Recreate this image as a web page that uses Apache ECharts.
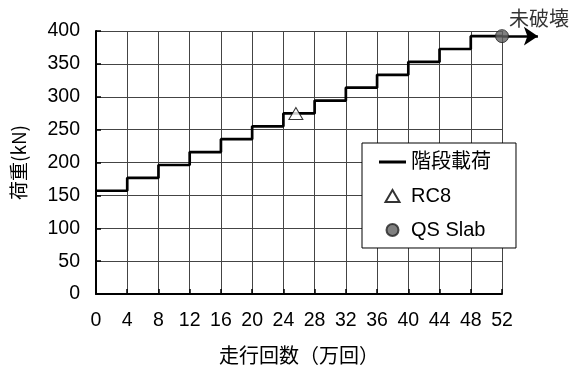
<!DOCTYPE html>
<html>
<head>
<meta charset="utf-8">
<script src="https://cdn.jsdelivr.net/npm/echarts@6/dist/echarts.min.js"></script>
<style>
  html, body { margin: 0; padding: 0; background: #fff; }
  #chart { width: 572px; height: 374px; }
</style>
</head>
<body>
<div id="chart"></div>
<script>
// Step loading: each block starts at stepStart (×10^4 passes) and holds stepLoad (kN)
const stepStart = [0, 4, 8, 12, 16, 20, 24, 28, 32, 36, 40, 44, 48];
const stepLoad  = [157, 176.6, 196.2, 215.8, 235.4, 255, 274.6, 294.2, 313.8, 333.4, 353, 372.6, 392.2];
const lastPass  = 52;

// Specimen results
const rc8Point    = [25.6, 274.6];
const qsSlabPoint = [52, 392.2];
const qsSlabNote  = '未破壊';
const arrowEnd    = 56.6;

const seriesNames = ['階段載荷', 'RC8', 'QS Slab'];
const xAxisTitle = '走行回数（万回）';
const yAxisTitle = '荷重(kN)';

const stepData = stepStart.map((x, i) => [x, stepLoad[i]]);
stepData.push([lastPass, stepLoad[stepLoad.length - 1]]);

const latin = "'Liberation Sans', 'Noto Sans CJK JP', sans-serif";
const cjk = "'Noto Sans CJK JP', sans-serif";

const chart = echarts.init(document.getElementById('chart'), null, { renderer: 'canvas' });
chart.setOption({
  animation: false,
  backgroundColor: '#fff',
  grid: { left: 96, right: 70, top: 31, bottom: 80, containLabel: false },
  xAxis: {
    type: 'value', min: 0, max: 52, interval: 4,
    name: xAxisTitle, nameLocation: 'middle', nameGap: 51,
    nameTextStyle: { fontFamily: cjk, fontSize: 20, color: '#000' },
    axisLine: { show: true, lineStyle: { color: '#000', width: 2 } },
    axisTick: { show: true, inside: true, length: 5, lineStyle: { color: '#000', width: 1.5 } },
    axisLabel: { fontFamily: latin, fontSize: 19.5, color: '#000', margin: 17 },
    splitLine: { show: true, lineStyle: { color: '#444', width: 1 } }
  },
  yAxis: {
    type: 'value', min: 0, max: 400, interval: 50,
    name: yAxisTitle, nameLocation: 'middle', nameGap: 68,
    nameTextStyle: { fontFamily: cjk, fontSize: 19, color: '#000' },
    axisLine: { show: true, lineStyle: { color: '#000', width: 2 } },
    axisTick: { show: true, inside: true, length: 5, lineStyle: { color: '#000', width: 1.5 } },
    axisLabel: { fontFamily: latin, fontSize: 19.5, color: '#000', margin: 16 },
    splitLine: { show: true, lineStyle: { color: '#444', width: 1 } }
  },
  legend: {
    orient: 'vertical', left: 362, top: 143,
    padding: [9, 25, 8, 17],
    itemWidth: 27, itemHeight: 12, itemGap: 14,
    backgroundColor: '#fff', borderColor: '#000', borderWidth: 1,
    textStyle: { fontFamily: latin, fontSize: 20, color: '#000' },
    data: [
      { name: seriesNames[0], icon: 'path://M0,0 H27 V3 H0 Z' },
      { name: seriesNames[1], icon: 'path://M7,0 L14,12 L0,12 Z' },
      { name: seriesNames[2], icon: 'circle' }
    ]
  },
  series: [
    {
      name: seriesNames[0], type: 'line', step: 'end',
      data: stepData, symbol: 'none',
      lineStyle: { color: '#000', width: 2.7 },
      itemStyle: { color: '#000' },
      z: 3
    },
    {
      type: 'lines', coordinateSystem: 'cartesian2d', clip: false,
      symbol: ['none', 'arrow'], symbolSize: 14,
      lineStyle: { color: '#000', width: 2.7, opacity: 1 },
      data: [{ coords: [qsSlabPoint, [arrowEnd, qsSlabPoint[1]]] }],
      z: 4
    },
    {
      name: seriesNames[1], type: 'scatter', symbol: 'triangle', symbolSize: [14, 12],
      data: [rc8Point],
      itemStyle: { color: '#fff', borderColor: '#000', borderWidth: 1 },
      z: 5
    },
    {
      name: seriesNames[2], type: 'scatter', symbol: 'circle', symbolSize: 13,
      data: [qsSlabPoint], clip: false,
      itemStyle: { color: '#606060', borderColor: '#222', borderWidth: 1 },
      label: {
        show: true, formatter: qsSlabNote,
        position: [14, -21], align: 'left', verticalAlign: 'top',
        fontFamily: cjk, fontSize: 20, color: '#000'
      },
      z: 6
    }
  ]
});
</script>
</body>
</html>
